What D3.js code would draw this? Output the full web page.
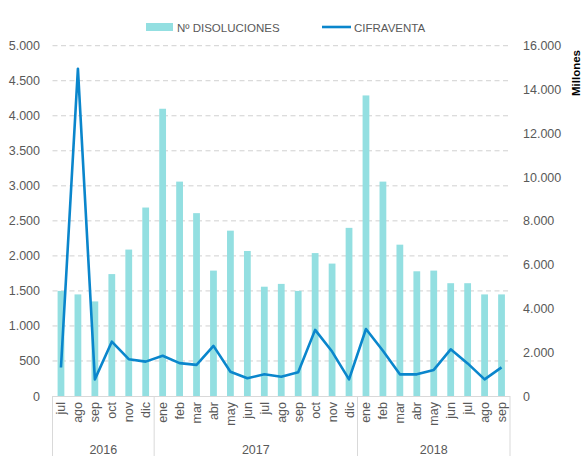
<!DOCTYPE html>
<html><head><meta charset="utf-8">
<script src="https://cdn.jsdelivr.net/npm/d3@7"></script>
<style>body{margin:0;background:#fff}svg{display:block;font-family:"Liberation Sans",Arial,sans-serif}</style>
</head><body>
<svg id="c" width="582" height="456"></svg>
<script>
const months = ["jul","ago","sep","oct","nov","dic","ene","feb","mar","abr","may","jun","jul","ago","sep","oct","nov","dic","ene","feb","mar","abr","may","jun","jul","ago","sep"];
const yearLabels = ["2016","2017","2018"];
const yearCounts = [6,12,9];
const disoluciones = [1500,1450,1350,1740,2090,2690,4100,3060,2610,1790,2360,2070,1560,1600,1500,2040,1890,2400,4290,3060,2160,1780,1790,1610,1610,1450,1450];
const cifraventa = [1300,14950,760,2480,1680,1570,1840,1500,1420,2290,1110,810,990,880,1080,3020,2030,760,3060,2070,990,990,1190,2130,1490,760,1310];
const leftTicks = [0,500,1000,1500,2000,2500,3000,3500,4000,4500,5000];
const rightTicks = [0,2000,4000,6000,8000,10000,12000,14000,16000];
const seriesNames = ["Nº DISOLUCIONES","CIFRAVENTA"];

const svg = d3.select("#c");
const L = 52.5, R = 510, T = 45.7, B = 396;
const idx = months.map((d,i)=>i);
const x = d3.scaleBand().domain(idx).range([L,R]).padding(0);
const yL = d3.scaleLinear().domain([0,5000]).range([B,T]);
const yR = d3.scaleLinear().domain([0,16000]).range([B,T]);
const fmt = d3.format(",");
const es = v => fmt(v).replace(/,/g,".");
const textCol = "#595959";

// gridlines
svg.append("g").selectAll("line").data(leftTicks.filter(t=>t>0)).join("line")
  .attr("x1",L).attr("x2",R).attr("y1",d=>yL(d)).attr("y2",d=>yL(d))
  .attr("stroke","#d0d0d0").attr("stroke-width",1).attr("stroke-dasharray","5,3.5");

// bars
const bw = x.bandwidth()*0.4;
svg.append("g").selectAll("rect").data(disoluciones).join("rect")
  .attr("x",(d,i)=>x(i)+x.bandwidth()/2-bw/2).attr("width",bw)
  .attr("y",d=>yL(d)).attr("height",d=>B-yL(d)).attr("fill","#93dfe1");

// line
const line = d3.line().x((d,i)=>x(i)+x.bandwidth()/2).y(d=>yR(d));
svg.append("path").datum(cifraventa).attr("d",line).attr("fill","none")
  .attr("stroke","#0a86cc").attr("stroke-width",2.6).attr("stroke-linejoin","round");

// axes (left)
const axL = svg.append("g").attr("transform",`translate(40,0)`).call(d3.axisLeft(yL).tickValues(leftTicks).tickFormat(es).tickSize(0).tickPadding(0));
axL.select(".domain").remove();
axL.selectAll("text").attr("fill",textCol).style("font-size","12.5px").style("font-family","'Liberation Sans',Arial,sans-serif");
const axR = svg.append("g").attr("transform",`translate(523,0)`).call(d3.axisRight(yR).tickValues(rightTicks).tickFormat(es).tickSize(0).tickPadding(0));
axR.select(".domain").remove();
axR.selectAll("text").attr("fill",textCol).style("font-size","12.5px").style("font-family","'Liberation Sans',Arial,sans-serif");

svg.append("text").attr("transform","translate(579.5,50) rotate(-90)").attr("text-anchor","end")
  .attr("font-weight","bold").attr("font-size","11.5px").attr("fill","#000").text("Millones");

// x axis baseline
svg.append("line").attr("x1",L).attr("x2",R).attr("y1",B+0.5).attr("y2",B+0.5).attr("stroke","#d9d9d9");
// month labels
svg.append("g").selectAll("text").data(months).join("text")
  .attr("transform",(d,i)=>`translate(${x(i)+x.bandwidth()/2+4.5},402) rotate(-90)`)
  .attr("text-anchor","end").attr("font-size","12.5px").attr("fill",textCol).text(d=>d);
// year separators and labels
let start = 0;
const seps = [0];
yearCounts.forEach(c=>{start+=c; seps.push(start);});
svg.append("g").selectAll("line").data(seps).join("line")
  .attr("x1",d=>d<months.length?x(d):R).attr("x2",d=>d<months.length?x(d):R)
  .attr("y1",B).attr("y2",456).attr("stroke","#d9d9d9");
svg.append("g").selectAll("text").data(yearLabels).join("text")
  .attr("x",(d,i)=>{const a=seps[i], b=seps[i+1]; const xa=x(a), xb=b<months.length?x(b):R; return (xa+xb)/2;})
  .attr("y",454).attr("text-anchor","middle").attr("font-size","12.5px").attr("fill",textCol).text(d=>d);

// legend
const lg = svg.append("g");
lg.append("rect").attr("x",146).attr("y",23).attr("width",27).attr("height",8).attr("fill","#93dfe1");
lg.append("text").attr("x",177).attr("y",31.5).attr("font-size","11.5px").attr("fill",textCol).text(seriesNames[0]);
lg.append("line").attr("x1",322).attr("x2",351).attr("y1",27).attr("y2",27).attr("stroke","#0a86cc").attr("stroke-width",2.6);
lg.append("text").attr("x",354).attr("y",31.5).attr("font-size","11.5px").attr("fill",textCol).text(seriesNames[1]);
</script>
</body></html>
